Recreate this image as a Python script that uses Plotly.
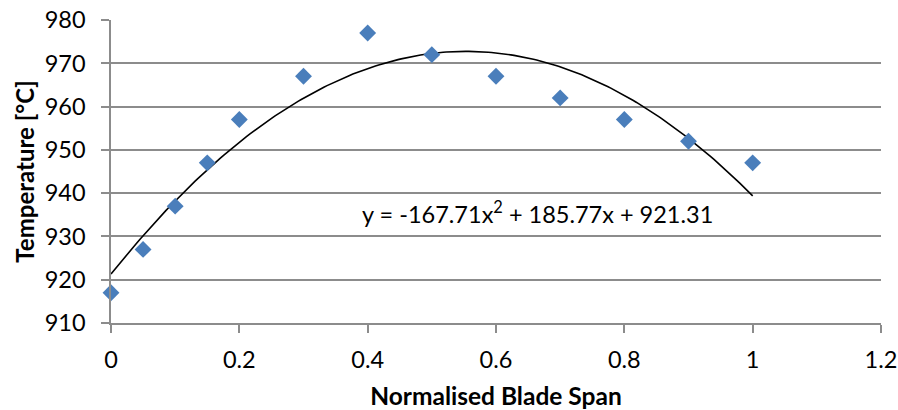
import numpy as np
import plotly.graph_objects as go

# Measured blade temperatures along the normalised span
span = [0, 0.05, 0.1, 0.15, 0.2, 0.3, 0.4, 0.5, 0.6, 0.7, 0.8, 0.9, 1.0]
temperature = [917, 927, 937, 947, 957, 967, 977, 972, 967, 962, 957, 952, 947]

# Quadratic trendline coefficients (a*x^2 + b*x + c)
coef_a, coef_b, coef_c = -167.71, 185.77, 921.31

x_ticks = [0, 0.2, 0.4, 0.6, 0.8, 1.0, 1.2]
x_tick_text = ["0", "0.2", "0.4", "0.6", "0.8", "1", "1.2"]
y_ticks = [910, 920, 930, 940, 950, 960, 970, 980]

FONT = "Lato"
GRID = "#8c8c8c"

xs = np.linspace(min(span), max(span), 200)
ys = coef_a * xs**2 + coef_b * xs + coef_c

fig = go.Figure()
fig.add_trace(go.Scatter(
    x=xs, y=ys, mode="lines",
    line=dict(color="black", width=1.6),
    hoverinfo="skip", showlegend=False,
))
fig.add_trace(go.Scatter(
    x=span, y=temperature, mode="markers", cliponaxis=False,
    marker=dict(symbol="diamond", size=13, color="#4a7ebb", line=dict(width=0)),
    showlegend=False,
))

fig.add_annotation(
    x=0.665, y=935.5, xref="x", yref="y",
    text="y = -167.71x<sup>2</sup> + 185.77x + 921.31",
    showarrow=False, font=dict(family=FONT, size=23.5, color="black"),
)

fig.update_layout(
    width=898, height=410,
    margin=dict(l=111, r=17, t=20, b=87, autoexpand=False),
    paper_bgcolor="white", plot_bgcolor="white",
    font=dict(family=FONT, color="black"),
)
fig.update_xaxes(
    range=[0, 1.2], tickvals=x_ticks, ticktext=x_tick_text,
    showgrid=False, zeroline=False, automargin=False,
    showline=True, linecolor=GRID, linewidth=1.5,
    ticks="outside", ticklen=8, tickcolor=GRID, tickwidth=1.5,
    tickfont=dict(family=FONT, size=23.5), ticklabelstandoff=7,
    title=dict(text="<b>Normalised Blade Span</b>", font=dict(family=FONT, size=24.5), standoff=16),
)
fig.update_yaxes(
    range=[910, 980], tickvals=y_ticks,
    showgrid=True, gridcolor=GRID, gridwidth=1.5, zeroline=False, automargin=False,
    showline=True, linecolor=GRID, linewidth=1.5,
    ticks="outside", ticklen=8, tickcolor=GRID, tickwidth=1.5,
    tickfont=dict(family=FONT, size=23.5), ticklabelstandoff=11,
    title=dict(text="<b>Temperature [°C]</b>", font=dict(family=FONT, size=24), standoff=3),
)

fig.write_html("out.html")
